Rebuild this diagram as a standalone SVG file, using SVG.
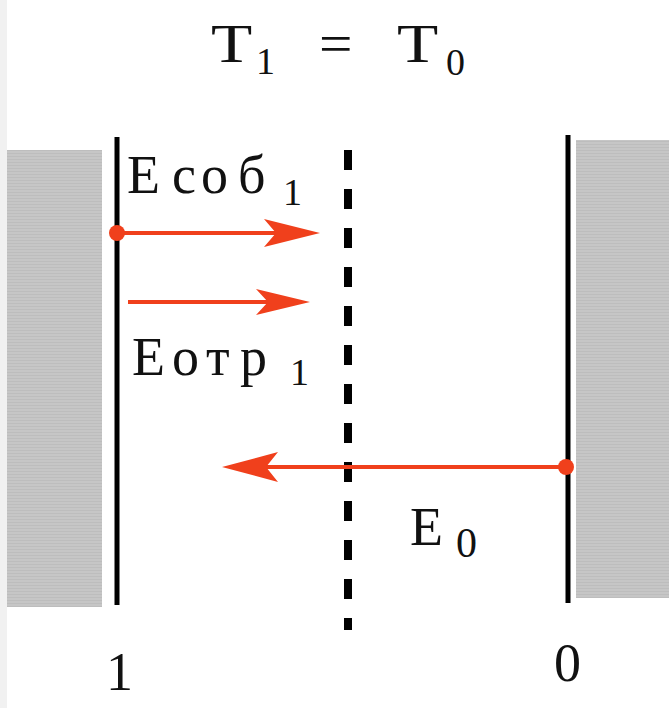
<svg xmlns="http://www.w3.org/2000/svg" width="669" height="708" viewBox="0 0 669 708">
  <defs>
    <pattern id="stripe" width="4" height="3" patternUnits="userSpaceOnUse">
      <rect width="4" height="3" fill="#c6c6c6"/>
      <rect width="4" height="1" fill="#bdbdbd"/>
    </pattern>
  </defs>
  <style>
    text { font-family: "Liberation Serif", "DejaVu Serif", serif; fill: #111; }
    .main { font-size: 54px; }
    .sub { font-size: 38px; }
    .wall { fill: url(#stripe); }
    .plate { stroke: #000; stroke-width: 5; fill: none; }
    .dash { stroke: #000; stroke-width: 8; stroke-dasharray: 20 19; fill: none; }
    .ray { stroke: #f0401c; stroke-width: 4; fill: none; }
    .head, .dot { fill: #f0401c; }
  </style>
  <rect width="669" height="708" fill="#ffffff"/>
  <rect x="0" y="0" width="7" height="708" fill="#f1f1f1"/>

  <g id="title">
    <text class="main" transform="translate(211,62) scale(1.25,1)" x="0" y="0">T</text>
    <text class="sub" x="256" y="74">1</text>
    <text class="main" transform="translate(319,62) scale(1.1,1)" x="0" y="0">=</text>
    <text class="main" transform="translate(397,62) scale(1.25,1)" x="0" y="0">T</text>
    <text class="sub" x="446" y="75">0</text>
  </g>

  <g id="wall-1">
    <rect class="wall" x="7" y="150" width="95" height="457"/>
  </g>
  <g id="wall-0">
    <rect class="wall" x="576" y="140" width="93" height="458"/>
  </g>

  <g id="plate-1">
    <line class="plate" x1="117" y1="137" x2="117" y2="605"/>
    <text class="main" x="106" y="690" font-size="56">1</text>
  </g>
  <g id="plate-0">
    <line class="plate" x1="568" y1="135" x2="568" y2="603"/>
    <text class="main" x="554" y="681" font-size="56">0</text>
  </g>
  <g id="section">
    <line class="dash" x1="348" y1="150" x2="348" y2="630"/>
  </g>

  <g id="connectors">
    <g id="e-sob">
      <line class="ray" x1="117" y1="233" x2="282" y2="233"/>
      <circle class="dot" cx="117" cy="233" r="8"/>
      <polygon class="head" points="320,233 264,219 276,233 264,247"/>
    </g>
    <g id="e-otr">
      <line class="ray" x1="128" y1="302" x2="272" y2="302"/>
      <polygon class="head" points="310,302 256,289 268,302 256,315"/>
    </g>
    <g id="e-0">
      <line class="ray" x1="568" y1="467" x2="262" y2="467"/>
      <circle class="dot" cx="566" cy="467" r="8"/>
      <polygon class="head" points="222,467 278,452 266,467 278,482"/>
    </g>
  </g>

  <g id="label-esob">
    <text class="main"><tspan x="127 172 201 238" y="193">Есоб</tspan><tspan class="sub" x="283" y="205">1</tspan></text>
  </g>
  <g id="label-eotr">
    <text class="main"><tspan x="132 172 206 240" y="375">Еотр</tspan><tspan class="sub" x="290" y="385">1</tspan></text>
  </g>
  <g id="label-e0">
    <text class="main"><tspan x="410" y="545">E</tspan><tspan font-size="42" x="456" y="557">0</tspan></text>
  </g>
</svg>
